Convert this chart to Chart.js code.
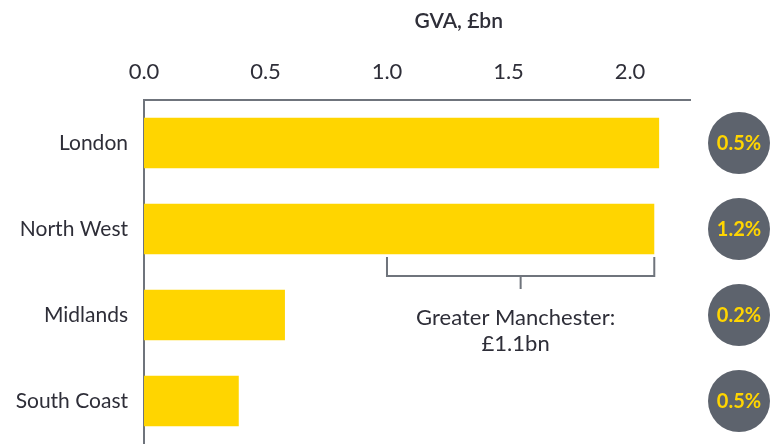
<!DOCTYPE html>
<html>
<head>
<meta charset="utf-8">
<script src="https://cdn.jsdelivr.net/npm/chart.js@4/dist/chart.umd.min.js"></script>
<style>
html,body{margin:0;padding:0;background:#fff;}
#wrap{width:771px;height:444px;}
</style>
</head>
<body>
<div id="wrap"><canvas id="c" width="771" height="444"></canvas></div>
<script>
const categories = ['London', 'North West', 'Midlands', 'South Coast'];
const gvaValues = [2.12, 2.10, 0.58, 0.39];
const growthLabels = ['0.5%', '1.2%', '0.2%', '0.5%'];
const tickValues = [0, 0.5, 1.0, 1.5, 2.0];
const axisTitle = 'GVA, £bn';
const gmLabel = ['Greater Manchester:', '£1.1bn'];
const gmValue = 1.1;
const gmCategory = 'North West';

const FONT = 'Lato, "Noto Sans", sans-serif';
const TEXT = '#2e2e38';
const YELLOW = '#FFD500';
const GREY = '#5d636d';
const AXIS = '#6f747c';

const overlay = {
  id: 'overlay',
  afterDraw(chart) {
    const ctx = chart.ctx;
    const xs = chart.scales.x, ys = chart.scales.y;
    ctx.save();
    // axis title
    ctx.fillStyle = TEXT;
    ctx.font = '600 21px ' + FONT;
    ctx.textAlign = 'center';
    ctx.textBaseline = 'middle';
    ctx.fillText(axisTitle, xs.getPixelForValue(1.295), 21);

    // bracket for Greater Manchester
    const idx = categories.indexOf(gmCategory);
    const end = gvaValues[idx];
    const start = end - gmValue;
    const x0 = xs.getPixelForValue(start), x1 = xs.getPixelForValue(end);
    const yc = ys.getPixelForValue(idx);
    const top = yc + 28, bot = yc + 47;
    ctx.strokeStyle = AXIS;
    ctx.lineWidth = 2;
    ctx.beginPath();
    ctx.moveTo(x0, top); ctx.lineTo(x0, bot); ctx.lineTo(x1, bot); ctx.lineTo(x1, top);
    const mid = (x0 + x1) / 2;
    ctx.moveTo(mid, bot); ctx.lineTo(mid, bot + 13);
    ctx.stroke();
    ctx.fillStyle = TEXT;
    ctx.font = '22px ' + FONT;
    ctx.fillText(gmLabel[0], mid - 5, yc + 89);
    ctx.fillText(gmLabel[1], mid - 5, yc + 115);

    // growth circles
    categories.forEach((c, i) => {
      const y = ys.getPixelForValue(i);
      const cx = 739;
      ctx.fillStyle = GREY;
      ctx.beginPath();
      ctx.arc(cx, y, 31, 0, Math.PI * 2);
      ctx.fill();
      ctx.fillStyle = YELLOW;
      ctx.font = 'bold 20px ' + FONT;
      ctx.fillText(growthLabels[i], cx, y + 1);
    });
    ctx.restore();
  }
};

new Chart(document.getElementById('c'), {
  type: 'bar',
  data: {
    labels: categories,
    datasets: [{
      data: gvaValues,
      backgroundColor: YELLOW,
      borderWidth: 0,
      categoryPercentage: 1.0,
      barPercentage: 0.59
    }]
  },
  options: {
    indexAxis: 'y',
    responsive: false,
    animation: false,
    layout: { padding: { left: 0, right: 81, top: 0, bottom: 0 } },
    plugins: { legend: { display: false }, tooltip: { enabled: false }, title: { display: false } },
    scales: {
      x: {
        position: 'top',
        min: 0,
        max: 2.247,
        afterBuildTicks(scale) { scale.ticks = tickValues.map(v => ({ value: v })); },
        afterFit(scale) {
          scale.height = 100;
          scale.paddingLeft = 0; scale.paddingRight = 0;
        },
        grid: { display: false, drawTicks: false, tickLength: 0 },
        border: { display: true, color: AXIS, width: 2 },
        ticks: {
          padding: 15,
          color: TEXT,
          font: { family: FONT, size: 22 },
          callback: v => Number(v).toFixed(1)
        }
      },
      y: {
        afterFit(scale) {
          scale.width = 144;
          scale.paddingTop = 0; scale.paddingBottom = 0;
        },
        grid: { display: false, drawTicks: false, tickLength: 0 },
        border: { display: true, color: AXIS, width: 2 },
        ticks: {
          padding: 16,
          color: TEXT,
          font: { family: FONT, size: 21 }
        }
      }
    }
  },
  plugins: [overlay]
});
</script>
</body>
</html>
